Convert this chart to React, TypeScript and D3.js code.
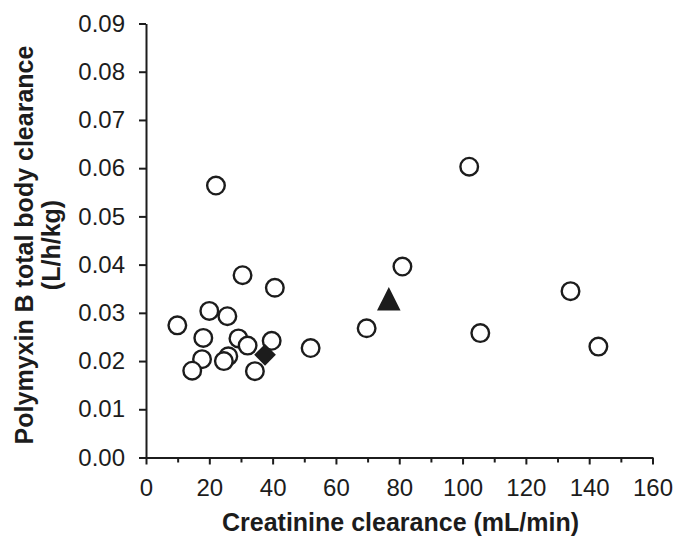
import React, { useEffect, useRef } from 'react';
import * as d3 from 'd3';

// open circles: creatinine clearance (mL/min) and total body clearance (L/h/kg)
const patientCrCl = [22.1, 30.5, 40.7, 9.9, 20.0, 25.7, 18.1, 29.2, 32.1, 39.7, 52.0, 17.7, 26.0, 24.6, 14.6, 34.4, 102.1, 81.0, 134.1, 69.7, 105.6, 142.9];
const patientCl = [0.0564, 0.0378, 0.0352, 0.0274, 0.0304, 0.0293, 0.0248, 0.0247, 0.0232, 0.0242, 0.0227, 0.0204, 0.0210, 0.0200, 0.0180, 0.0179, 0.0603, 0.0396, 0.0345, 0.0268, 0.0258, 0.0230];

// filled markers
const diamondPoint = [37.6, 0.0213];
const trianglePoint = [76.7, 0.0321];

const xMajorTicks = [0, 20, 40, 60, 80, 100, 120, 140, 160];
const xMinorTicks = [10, 30, 50, 70, 90, 110, 130, 150];
const yTicks = [0, 0.01, 0.02, 0.03, 0.04, 0.05, 0.06, 0.07, 0.08, 0.09];

const xTitle = 'Creatinine clearance (mL/min)';
const yTitle = ['Polymyxin B total body clearance', '(L/h/kg)'];

const W = 677;
const H = 536;
const left = 146;
const right = 652.5;
const top = 23.5;
const bottom = 457.5;
const font = '"Liberation Sans", Arial, sans-serif';
const ink = '#1c1c1c';

const App: React.FC = () => {
    const ref = useRef<SVGSVGElement>(null);

    useEffect(() => {
        const svg = d3.select(ref.current);
        svg.selectAll('*').remove();

        const x = d3.scaleLinear().domain([0, 160]).range([left, right]);
        const y = d3.scaleLinear().domain([0, 0.09]).range([bottom, top]);

        // minor ticks on x, no labels
        const gxMinor = svg.append('g')
            .attr('transform', `translate(0, ${bottom})`)
            .call(d3.axisBottom(x).tickValues(xMinorTicks).tickSize(5).tickFormat(() => ''));
        gxMinor.select('.domain').remove();

        const gx = svg.append('g')
            .attr('transform', `translate(0, ${bottom})`)
            .call(d3.axisBottom(x).tickValues(xMajorTicks).tickSize(7).tickSizeOuter(0).tickPadding(14).tickFormat(d3.format('d')));

        const gy = svg.append('g')
            .attr('transform', `translate(${left}, 0)`)
            .call(d3.axisLeft(y).tickValues(yTicks).tickSize(7).tickSizeOuter(0).tickPadding(14).tickFormat(d3.format('.2f')));

        [gxMinor, gx, gy].forEach(g => {
            g.selectAll('line').attr('stroke', ink).attr('stroke-width', 2);
            g.select('.domain').attr('stroke', ink).attr('stroke-width', 2);
            g.selectAll('text')
                .attr('fill', ink)
                .style('font-family', font)
                .style('font-size', '24px');
        });

        // open circles
        svg.append('g')
            .selectAll('circle')
            .data(d3.zip(patientCrCl, patientCl))
            .enter()
            .append('circle')
            .attr('cx', d => x(d[0]))
            .attr('cy', d => y(d[1]))
            .attr('r', 8.8)
            .attr('fill', 'white')
            .attr('stroke', ink)
            .attr('stroke-width', 2.4);

        svg.append('path')
            .attr('transform', `translate(${x(diamondPoint[0])}, ${y(diamondPoint[1])})`)
            .attr('d', d3.symbol().type(d3.symbolDiamond2).size(300)())
            .attr('fill', ink);

        svg.append('path')
            .attr('transform', `translate(${x(trianglePoint[0])}, ${y(trianglePoint[1])}) scale(1, 1.15)`)
            .attr('d', d3.symbol().type(d3.symbolTriangle).size(240)())
            .attr('fill', ink);

        // titles
        svg.append('text')
            .attr('x', 400.5)
            .attr('y', 530.5)
            .attr('text-anchor', 'middle')
            .style('font-family', font)
            .style('font-size', '25px')
            .style('font-weight', 'bold')
            .attr('fill', ink)
            .text(xTitle);

        yTitle.forEach((t, i) => {
            svg.append('text')
                .attr('transform', `translate(${33 + i * 27}, 245) rotate(-90)`)
                .attr('text-anchor', 'middle')
                .style('font-family', font)
                .style('font-size', '25px')
                .style('font-weight', 'bold')
                .attr('fill', ink)
                .text(t);
        });
    }, []);

    return (
        <svg
            ref={ref}
            width={W}
            height={H}
            style={{ position: 'absolute', top: 0, left: 0, background: 'white' }}
        />
    );
};

export default App;
